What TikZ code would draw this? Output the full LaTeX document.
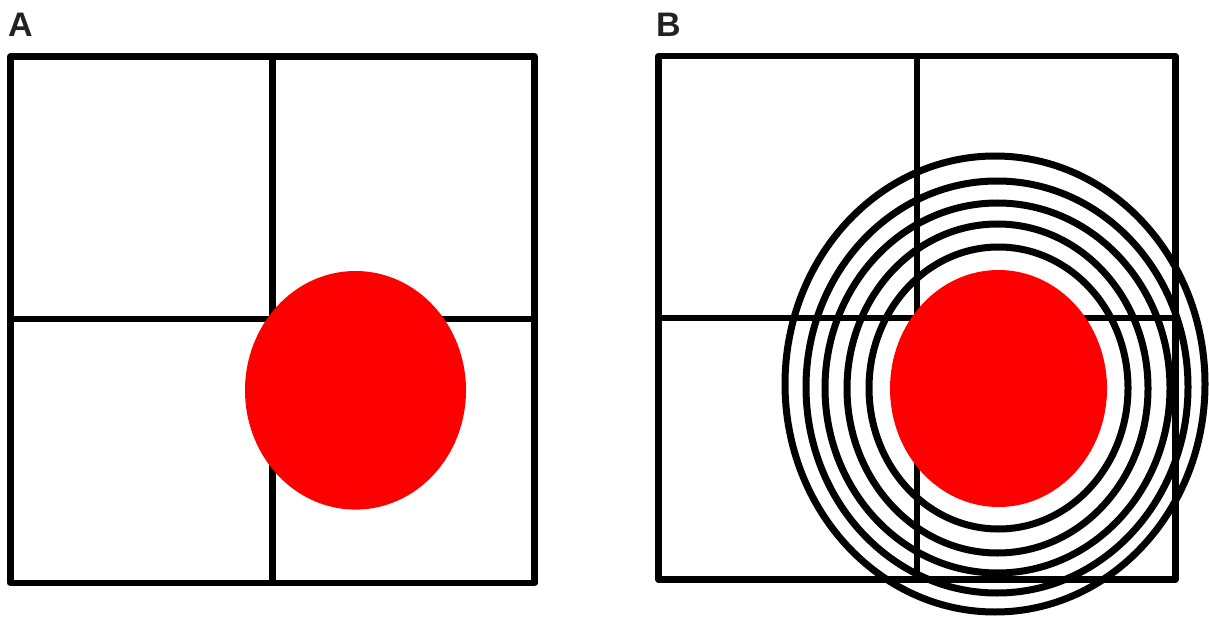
\documentclass[tikz,border=0pt]{standalone}
\usepackage{fontspec}
\setmainfont{Liberation Sans}
\definecolor{labelgray}{HTML}{222222}
\definecolor{dotred}{HTML}{FF0000}
\begin{document}
\begin{tikzpicture}[x=1pt,y=-1pt,
  gridline/.style={line width=6.5pt,line join=round,black},
  ringline/.style={line width=7pt,black},
  dot/.style={fill=dotred},
  paneltag/.style={anchor=base west,inner sep=0pt,font=\fontsize{34}{34}\selectfont\bfseries,text=labelgray}]
\useasboundingbox (0,0) rectangle (1209,617);
% Panel A
\draw[gridline] (10.5,56.5) rectangle (534.7,583);
\draw[gridline] (272.5,56.5) -- (272.5,583);
\draw[gridline] (10.5,319) -- (534.7,319);
\fill[dot] (355.5,390.3) ellipse [x radius=110.5, y radius=119.3];
\node[paneltag] (labA) at (8,37) {A};
% Panel B
\draw[gridline] (658.7,56) rectangle (1175.3,579.7);
\draw[gridline] (917,56) -- (917,579.7);
\draw[gridline] (658.7,317.8) -- (1175.3,317.8);
\draw[ringline] (995,384) ellipse [x radius=210, y radius=228];
\draw[ringline] (997,387) ellipse [x radius=191, y radius=206];
\draw[ringline] (997.5,388) ellipse [x radius=172.5, y radius=185];
\draw[ringline] (997.5,388.5) ellipse [x radius=150.5, y radius=164.5];
\draw[ringline] (998.5,388) ellipse [x radius=129.5, y radius=141];
\fill[dot] (998.5,388.5) ellipse [x radius=108.5, y radius=118.5];
\node[paneltag] (labB) at (656,37) {B};
\end{tikzpicture}
\end{document}
